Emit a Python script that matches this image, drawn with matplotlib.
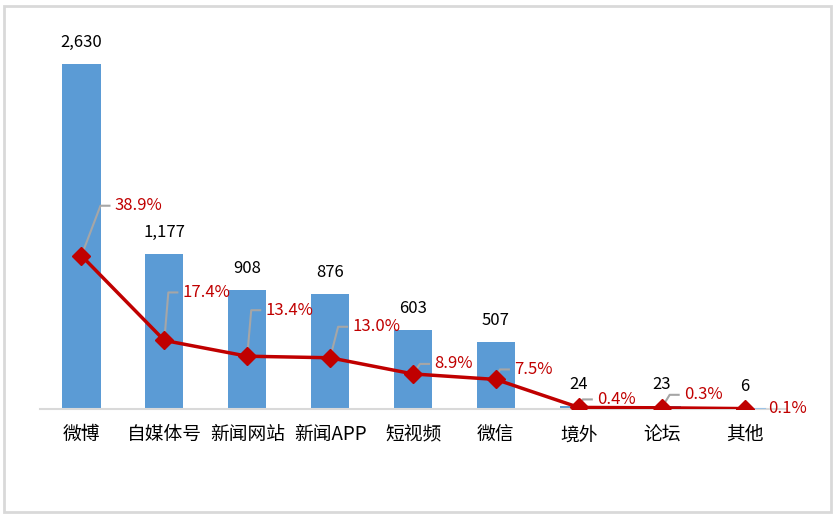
import numpy as np
import matplotlib.pyplot as plt
from matplotlib.patches import Rectangle
from matplotlib.transforms import ScaledTranslation

plt.rcParams['font.family'] = ['Noto Sans CJK SC', 'DejaVu Sans']

categories = ['微博', '自媒体号', '新闻网站', '新闻APP', '短视频', '微信', '境外', '论坛', '其他']
counts = [2630, 1177, 908, 876, 603, 507, 24, 23, 6]
shares = [38.9, 17.4, 13.4, 13.0, 8.9, 7.5, 0.4, 0.3, 0.1]

# leader elbow offsets for the share labels, in pixels from the marker
elbows = [(19, 50), (4, 48), (4, 46), (8, 31), (7, 10), (4, 10), (4, 8), (8, 13), (0, 0)]

W, H = 839, 518
fig = plt.figure(figsize=(W / 100, H / 100), dpi=100)
fig.patches.append(Rectangle((4 / W, 6 / H), 827 / W, 506 / H, transform=fig.transFigure,
                             fill=False, edgecolor='#d9d9d9', linewidth=2))

ax = fig.add_axes([40 / W, (H - 409) / H, 746 / W, 394 / H])
x = np.arange(len(categories))
ax.bar(x, counts, width=0.46, color='#5b9bd5', zorder=1)
ax.set_ylim(0, 3000)
ax.set_xlim(-0.5, len(categories) - 0.5)
for s in ['top', 'right', 'left']:
    ax.spines[s].set_visible(False)
ax.spines['bottom'].set_color('#d9d9d9')
ax.spines['bottom'].set_linewidth(1.5)
ax.set_yticks([])
ax.set_xticks(x)
ax.set_xticklabels(categories, fontsize=13.5)
ax.tick_params(axis='x', length=0, pad=11)

for xi, c in zip(x, counts):
    ax.annotate(f'{c:,}', (xi, c), xytext=(0, 13), textcoords='offset pixels',
                ha='center', va='bottom', fontsize=12, color='black')

ax2 = ax.twinx()
ax2.set_ylim(0, 100)
ax2.set_xlim(-0.5, len(categories) - 0.5)
ax2.axis('off')
ax2.plot(x, shares, color='#c00000', linewidth=2.5, marker='D', markersize=9,
         markeredgecolor='#c00000', zorder=3)

for (xi, p), (dx, dy) in zip(zip(x, shares), elbows):
    trans = fig.dpi_scale_trans + ScaledTranslation(xi, p, ax2.transData)
    if dx == 0 and dy == 0:
        ax2.plot([0.06, 0.20], [0, 0], transform=trans, color='#9dc3e6', lw=1.5, zorder=2)
        ax2.text(0.24, 0, f'{p:.1f}%', transform=trans, ha='left', va='center',
                 fontsize=12, color='#c00000')
        continue
    ax2.plot([0, dx / 100, (dx + 9) / 100], [0, dy / 100, dy / 100], transform=trans,
             color='#a6a6a6', lw=1.5, zorder=2)
    ax2.text((dx + 14) / 100, dy / 100, f'{p:.1f}%', transform=trans, ha='left',
             va='center', fontsize=12, color='#c00000')

fig.savefig('out.png', dpi=100)
